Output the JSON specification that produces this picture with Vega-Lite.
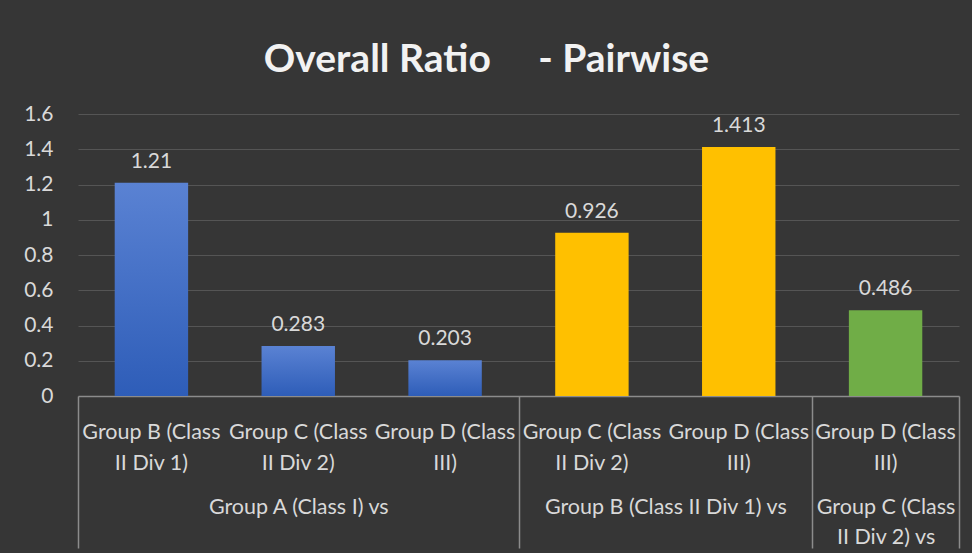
{
  "$schema": "https://vega.github.io/schema/vega-lite/v6.json",
  "autosize": {"type": "none"},
  "padding": {"left": 78, "top": 114, "right": 13, "bottom": 157},
  "width": 881,
  "height": 282,
  "background": "#363636",
  "config": {
    "font": "Lato",
    "view": {"stroke": null}
  },
  "title": {
    "text": "Overall Ratio\u00a0\u00a0\u00a0\u00a0\u00a0- Pairwise",
    "anchor": "middle",
    "frame": "group",
    "dx": -32,
    "dy": 47,
    "offset": 39,
    "baseline": "alphabetic",
    "fontSize": 39,
    "fontWeight": "bold",
    "color": "#f2f2f2",
    "font": "Lato"
  },
  "data": {
    "values": [
      {"base": "Group A (Class I) vs", "pair": "Group A (Class I) vs Group B (Class II Div 1)", "ratio": 1.21},
      {"base": "Group A (Class I) vs", "pair": "Group A (Class I) vs Group C (Class II Div 2)", "ratio": 0.283},
      {"base": "Group A (Class I) vs", "pair": "Group A (Class I) vs Group D (Class III)", "ratio": 0.203},
      {"base": "Group B (Class II Div 1) vs", "pair": "Group B (Class II Div 1) vs Group C (Class II Div 2)", "ratio": 0.926},
      {"base": "Group B (Class II Div 1) vs", "pair": "Group B (Class II Div 1) vs Group D (Class III)", "ratio": 1.413},
      {"base": "Group C (Class II Div 2) vs", "pair": "Group C (Class II Div 2) vs Group D (Class III)", "ratio": 0.486}
    ]
  },
  "resolve": {"scale": {"x": "independent"}, "axis": {"x": "independent"}},
  "encoding": {
    "y": {
      "field": "ratio", "type": "quantitative",
      "scale": {"domain": [0, 1.6], "nice": false},
      "axis": {
        "title": null,
        "values": [0, 0.2, 0.4, 0.6, 0.8, 1, 1.2, 1.4, 1.6],
        "format": "~g",
        "domain": false,
        "ticks": false,
        "labelPadding": 25,
        "labelFontSize": 21,
        "labelColor": "#d9d9d9",
        "labelOverlap": false,
        "gridColor": "#555555",
        "gridWidth": 1
      }
    }
  },
  "layer": [
    {
      "layer": [
        {
          "transform": [{"filter": "datum.base == 'Group A (Class I) vs'"}],
          "mark": {
            "type": "bar",
            "width": {"band": 0.5},
            "color": {
              "gradient": "linear", "x1": 0, "y1": 0, "x2": 0, "y2": 1,
              "stops": [{"offset": 0, "color": "#5A82D3"}, {"offset": 1, "color": "#2E5DB8"}]
            }
          },
          "encoding": {
            "x": {"field": "pair", "type": "nominal"}
          }
        },
        {
          "transform": [{"filter": "datum.base != 'Group A (Class I) vs'"}],
          "mark": {"type": "bar", "width": {"band": 0.5}},
          "encoding": {
            "x": {"field": "pair", "type": "nominal"},
            "color": {
              "field": "base", "type": "nominal",
              "scale": {"domain": ["Group B (Class II Div 1) vs", "Group C (Class II Div 2) vs"], "range": ["#FFC000", "#70AD47"]},
              "legend": null
            }
          }
        },
        {
          "mark": {"type": "text", "baseline": "alphabetic", "dy": -15, "fontSize": 21, "color": "#d9d9d9"},
          "encoding": {
            "x": {"field": "pair", "type": "nominal"},
            "text": {"field": "ratio", "type": "quantitative", "format": "~g"}
          }
        }
      ],
      "encoding": {
        "x": {
          "field": "pair", "type": "nominal", "sort": null,
          "scale": {"paddingInner": 0, "paddingOuter": 0},
          "axis": {
            "orient": "bottom",
            "title": null,
            "labelAngle": 0,
            "ticks": false,
            "domain": true,
            "domainColor": "#8c8c8c",
            "domainWidth": 1.5,
            "labelExpr": "[substring(datum.label, lastindexof(datum.label,'Group'), lastindexof(datum.label,'Class')+5), substring(datum.label, lastindexof(datum.label,'Class')+6)]",
            "labelBaseline": "alphabetic",
            "labelPadding": 42,
            "labelLineHeight": 31,
            "labelFontSize": 21.5,
            "labelColor": "#d9d9d9",
            "labelOverlap": false,
            "labelLimit": 0,
            "labelBound": false
          }
        }
      }
    },
    {
      "mark": {"type": "point", "opacity": 0},
      "encoding": {
        "x": {
          "field": "ratio", "type": "quantitative",
          "scale": {"domain": [0, 6], "nice": false, "zero": false},
          "axis": {
            "orient": "bottom",
            "title": null,
            "values": [0, 1.5, 3, 4, 5, 5.5, 6],
            "grid": false,
            "domain": false,
            "tickSize": 152,
            "tickWidth": 1.5,
            "tickColor": "#8c8c8c",
            "tickOpacity": {"condition": {"test": "datum.value == 0 || datum.value == 3 || datum.value == 5 || datum.value == 6", "value": 1}, "value": 0},
            "labelExpr": "datum.value == 1.5 ? 'Group A (Class I) vs' : datum.value == 4 ? 'Group B (Class II Div 1) vs' : datum.value == 5.5 ? ['Group C (Class', 'II Div 2) vs'] : ''",
            "labelBaseline": "alphabetic",
            "labelPadding": -35,
            "labelLineHeight": 30,
            "labelFontSize": 21.5,
            "labelColor": "#d9d9d9",
            "labelOverlap": false,
            "labelFlush": false,
            "labelBound": false,
            "labelLimit": 0
          }
        }
      }
    }
  ]
}
